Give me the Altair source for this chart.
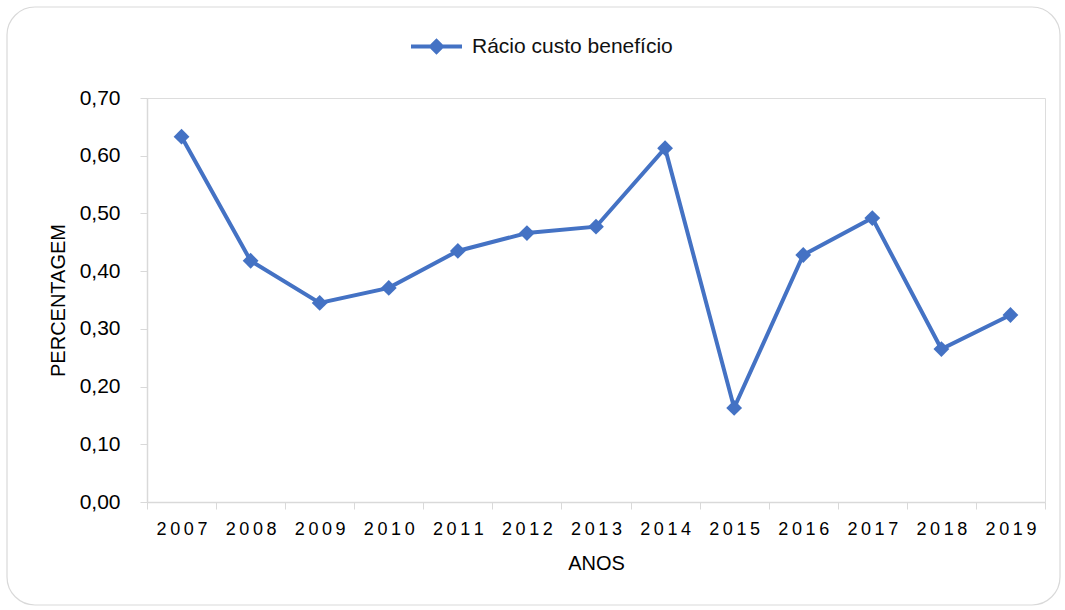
import altair as alt
import pandas as pd

# Annual cost-benefit ratio
anos = ["2007", "2008", "2009", "2010", "2011", "2012", "2013",
        "2014", "2015", "2016", "2017", "2018", "2019"]
racio = [0.633, 0.418, 0.345, 0.371, 0.435, 0.466, 0.477,
         0.613, 0.163, 0.428, 0.492, 0.265, 0.324]
serie = "Rácio custo benefício"
y_ticks = [0.0, 0.1, 0.2, 0.3, 0.4, 0.5, 0.6, 0.7]

BLUE = "#4472C4"
GREY = "#d9d9d9"
FONT = "Lato"
INK = "#111111"

df = pd.DataFrame({"ano": anos, "racio": racio, "serie": serie})

W, H = 898, 404

x_enc = alt.X(
    "ano:N",
    sort=anos,
    scale=alt.Scale(paddingInner=0, paddingOuter=0),
    axis=alt.Axis(
        title="ANOS",
        labelAngle=0,
        tickBand="extent",
        tickSize=7,
        tickColor=GREY,
        domainColor=GREY,
        domainWidth=1.5,
        labelPadding=11,
        labelFontSize=18,
        labelExpr="join(split(datum.label, ''), '\u2009')",
        titlePadding=15,
        titleFontSize=20,
        titleFontWeight="normal",
    ),
)
y_enc = alt.Y(
    "racio:Q",
    scale=alt.Scale(domain=[0, 0.7], nice=False),
    axis=alt.Axis(
        title="PERCENTAGEM",
        values=y_ticks,
        grid=False,
        tickSize=7,
        tickColor=GREY,
        domainColor=GREY,
        domainWidth=1.5,
        labelPadding=20,
        labelFontSize=21,
        labelExpr="replace(format(datum.value, '.2f'), '.', ',')",
        titlePadding=11,
        titleFontSize=20,
        titleFontWeight="normal",
    ),
)

base = alt.Chart(df)

line = base.mark_line(color=BLUE, strokeWidth=4).encode(x=x_enc, y=y_enc)

# legend symbol: horizontal stroke with a diamond in the middle
legend_symbol = (
    "M-1,-0.075L-0.245,-0.075L0,-0.32L0.245,-0.075L1,-0.075"
    "L1,0.075L0.245,0.075L0,0.32L-0.245,0.075L-1,0.075Z"
)

points = base.mark_point(shape="diamond", filled=True, size=250, opacity=1).encode(
    x=x_enc,
    y=y_enc,
    color=alt.Color(
        "serie:N",
        scale=alt.Scale(range=[BLUE]),
        legend=alt.Legend(
            title=None,
            orient="none",
            legendX=264,
            legendY=-77,
            symbolType=legend_symbol,
            symbolSize=2601,
            symbolStrokeWidth=0,
            labelFontSize=21,
            labelColor=INK,
            labelOffset=10,
            labelLimit=500,
            padding=0,
        ),
    ),
)

# rounded frame around the whole figure
frame = alt.Chart(pd.DataFrame({"k": [0]})).mark_rect(
    fill="transparent", stroke=GREY, strokeWidth=1.2, cornerRadius=28
).encode(
    x=alt.value(-140), x2=alt.value(913),
    y=alt.value(-91), y2=alt.value(507),
)

chart = alt.layer(frame, line, points).properties(
    width=W,
    height=H,
    autosize=alt.AutoSizeParams(type="none"),
    padding={"left": 147, "top": 98, "right": 20, "bottom": 108},
).configure_view(
    stroke="#d6dff0", strokeWidth=1.5
).configure_axis(
    labelFont=FONT, titleFont=FONT, labelColor=INK, titleColor=INK
).configure_legend(
    labelFont=FONT
).configure(background="white")

chart.save("out.html", embed_options={"renderer": "svg", "actions": False})
